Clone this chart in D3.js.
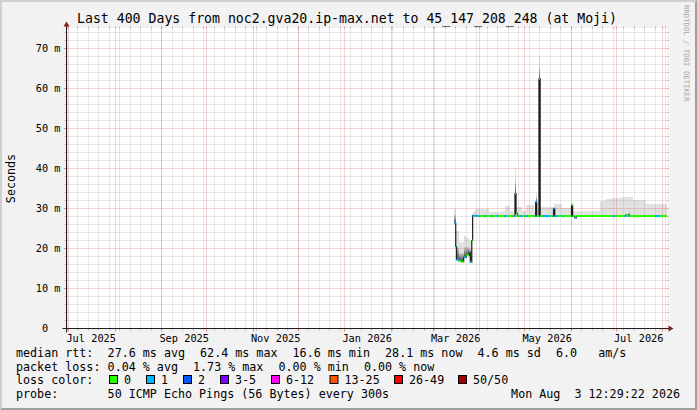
<!DOCTYPE html>
<html><head><meta charset="utf-8">
<script src="https://cdn.jsdelivr.net/npm/d3@7"></script>
<style>
html,body{margin:0;padding:0;background:#f2f2f2;}
svg{display:block;}
text{font-family:"DejaVu Sans Mono",monospace;white-space:pre;}
</style>
</head><body>
<svg id="c" width="697" height="410"></svg>
<script>
// ---------------- DATA ----------------
const titleText = "Last 400 Days from noc2.gva20.ip-max.net to 45_147_208_248 (at Moji)";
const endTimeStr = "2026-08-03T12:29:22";
const spanDays = 400;

// median rtt (ms) per period, period runs until next start; loss = lost pings of 50
const medianDates = [
 "2026-03-15T00:00","2026-03-16T00:00","2026-03-16T12:00","2026-03-18T05:00","2026-03-19T17:00",
 "2026-03-21T07:00","2026-03-23T00:00","2026-03-24T22:00","2026-03-25T17:00","2026-03-26T17:00",
 "2026-03-27T07:00","2026-03-29T22:00","2026-03-31T00:00","2026-04-01T00:00","2026-04-04T05:00",
 "2026-04-05T12:00","2026-04-08T12:00","2026-04-09T12:00","2026-04-12T00:00","2026-04-13T00:00",
 "2026-04-17T12:00","2026-04-19T00:00","2026-04-23T00:00","2026-04-24T05:00","2026-04-24T12:00",
 "2026-04-25T05:00","2026-04-26T00:00","2026-04-27T12:00","2026-04-29T12:00","2026-05-01T12:00",
 "2026-05-03T00:00","2026-05-07T12:00","2026-05-08T07:00","2026-05-09T00:00","2026-05-10T12:00",
 "2026-05-11T07:00","2026-05-13T00:00","2026-05-17T12:00","2026-05-19T12:00","2026-05-20T05:00",
 "2026-05-21T00:00","2026-05-23T00:00","2026-05-26T00:00","2026-05-26T19:00","2026-06-01T05:00",
 "2026-06-01T22:00","2026-06-03T05:00","2026-06-04T12:00","2026-06-28T12:00","2026-06-30T00:00",
 "2026-07-06T12:00","2026-07-07T12:00","2026-07-09T00:00","2026-07-09T17:00","2026-07-27T05:00",
 "2026-07-30T00:00"];
const medianMs = [
 26.3,20.5,17.2,16.9,16.7, 17.8,18.3,19.1,16.6,22.0,
 28.2,28.1,28.1,28.1,28.1, 28.1,28.1,28.1,28.1,28.1,
 28.1,28.1,28.1,28.1,33.7, 28.8,28.1,28.1,28.1,28.1,
 28.1,28.1,31.6,28.1,62.4, 28.1,28.1,28.1,28.1,30.0,
 28.1,28.1,28.1,28.1,30.8, 28.1,27.7,28.1,28.1,28.1,
 28.1,28.4,28.1,28.1,28.1, 28.1];
const medianLoss = [
 1,1,1,0,0, 1,0,1,1,0,
 1,0,1,0,1, 0,1,0,1,0,
 1,0,1,0,1, 0,0,1,0,1,
 0,1,1,0,1, 0,1,0,1,1,
 1,0,1,0,0, 0,1,0,1,0,
 1,0,1,0,1, 0];

// smoke (ping spread): upper edge and a denser inner band (ms)
const smokeDates = [
 "2026-03-15T00:00","2026-03-16T00:00","2026-03-16T12:00","2026-03-18T05:00","2026-03-21T07:00",
 "2026-03-23T00:00","2026-03-24T22:00","2026-03-26T17:00","2026-03-27T07:00","2026-03-29T00:00",
 "2026-04-07T00:00","2026-04-15T00:00","2026-04-18T00:00","2026-04-21T00:00","2026-04-24T12:00",
 "2026-04-25T05:00","2026-04-29T00:00","2026-05-02T00:00","2026-05-07T12:00","2026-05-08T07:00",
 "2026-05-09T00:00","2026-05-10T12:00","2026-05-11T07:00","2026-05-20T05:00","2026-05-26T00:00",
 "2026-06-01T05:00","2026-06-01T22:00","2026-06-20T00:00","2026-06-24T00:00","2026-06-28T00:00",
 "2026-07-05T00:00","2026-07-09T12:00","2026-07-10T05:00","2026-07-12T00:00","2026-07-21T00:00"];
const smokeTopMs = [
 30.0,24.0,24.5,21.6,23.2, 22.6,22.0,23.0,29.2,29.9,
 29.2,29.5,30.7,29.3,40.5, 30.5,29.5,31.0,29.5,34.0,
 29.6,68.0,30.5,31.2,30.2, 31.5,29.3,31.8,32.3,32.6,
 33.0,32.8,33.0,32.2,31.2];
const smokeInnerMs = [
 28.5,22.0,20.5,19.0,20.5, 20.5,20.0,null,null,null,
 null,null,null,null,37.0, null,null,null,null,33.0,
 null,65.5,null,null,null, null,null,null,null,null,
 null,29.3,null,null,null];

const yTicks = [0,10,20,30,40,50,60,70];
const lossLabels = ["0","1","2","3-5","6-12","13-25","26-49","50/50"];
const lossColors = ["#26ff00","#00b8ff","#0059ff","#7e00ff","#ff00ff","#ff5500","#ff0000","#a00000"];
const rttStatValues = [27.6, 62.4, 16.6, 28.1];
const rttStatNames = ["avg","max","min","now"];
const rttSd = 4.6;
const rttAmps = 6.0;
const lossStatValues = [0.04, 1.73, 0.00, 0.00];
const lossStatNames = ["avg","max","min","now"];
const probeText = "50 ICMP Echo Pings (56 Bytes) every 300s";
const stampText = "Mon Aug  3 12:29:22 2026";

// ---------------- LAYOUT ----------------
const W = 697, H = 410;
const X0 = 66.5, XS = 600, Y0 = 328.5, YS = 300;
const endTime = new Date(endTimeStr);
const startTime = new Date(+endTime - spanDays * 864e5);
const x = d3.scaleTime().domain([startTime, endTime]).range([X0, X0 + XS]);
const y = d3.scaleLinear().domain([0, 75]).range([Y0, Y0 - YS]);
const px = d => Math.floor(x(d)) + 0.5;

const C = {
  back: "#f2f2f2", canvas: "#ffffff", shadeA: "#cfcfcf", shadeB: "#9e9e9e",
  grid: "rgba(143,143,143,0.42)", mgrid: "rgba(222,79,79,0.5)",
  gridTick: "rgba(143,143,143,0.6)", mgridTick: "rgba(222,79,79,0.6)",
  font: "#000000", arrow: "#801f1f", axis: "#1f1f1f"
};
const FS = { title: 13.2, axis: 10.3, legend: 11.7, unit: 11.7, water: 7.3 };
const CW = FS.legend * 0.6021; // monospace advance

const svg = d3.select("#c");
const defs = svg.append("defs");
const grad = defs.append("linearGradient").attr("id", "inner").attr("x1", 0).attr("y1", 0).attr("x2", 0).attr("y2", 1);
grad.append("stop").attr("offset", "0%").attr("stop-color", "#d6d6d6");
grad.append("stop").attr("offset", "100%").attr("stop-color", "#4a4a4a");

svg.append("rect").attr("width", W).attr("height", H).attr("fill", C.back);
svg.append("path").attr("d", `M0,0L${W},0L${W-2},2L2,2L2,${H-2}L0,${H}Z`).attr("fill", C.shadeA);
svg.append("path").attr("d", `M${W},0L${W},${H}L0,${H}L2,${H-2}L${W-2},${H-2}L${W-2},2Z`).attr("fill", C.shadeB);
svg.append("rect").attr("x", 66).attr("y", 28).attr("width", 601).attr("height", 301).attr("fill", C.canvas);

// ---------------- SMOKE ----------------
const mD = medianDates.map(s => +new Date(s));
const sD = smokeDates.map(s => +new Date(s));
const bps = Array.from(new Set([...mD, ...sD])).sort((a, b) => a - b);
bps.push(+endTime);
const gSmoke = svg.append("g").attr("shape-rendering", "crispEdges");
for (let i = 0; i < bps.length - 1; i++) {
  const a = bps[i], b = bps[i + 1];
  const mi = d3.bisectRight(mD, a) - 1, si = d3.bisectRight(sD, a) - 1;
  if (mi < 0 || si < 0) continue;
  const med = medianMs[mi], top = smokeTopMs[si], inner = smokeInnerMs[si];
  const xa = x(new Date(a)), xb = x(new Date(b));
  gSmoke.append("rect").attr("x", xa).attr("width", xb - xa)
    .attr("y", y(top)).attr("height", y(med) - y(top)).attr("fill", "#e1e1e1");
  if (inner !== null) {
    gSmoke.append("rect").attr("x", xa).attr("width", xb - xa)
      .attr("y", y(inner)).attr("height", y(med) - y(inner)).attr("fill", "url(#inner)");
  }
}

// ---------------- GRID ----------------
const gGrid = svg.append("g");
const minorY = d3.range(0, 75, 2).filter(v => v % 10 !== 0);
minorY.forEach(v => {
  const yy = y(v);
  gGrid.append("line").attr("x1", X0).attr("x2", X0 + XS).attr("y1", yy).attr("y2", yy)
    .attr("stroke", C.grid).attr("stroke-dasharray", "1,1");
  gGrid.append("line").attr("x1", X0 - 2).attr("x2", X0).attr("y1", yy).attr("y2", yy).attr("stroke", C.gridTick);
  gGrid.append("line").attr("x1", X0 + XS).attr("x2", X0 + XS + 2).attr("y1", yy).attr("y2", yy).attr("stroke", C.gridTick);
});
const weeks = d3.timeMonday.range(startTime, endTime);
weeks.forEach(d => {
  const xx = px(d);
  gGrid.append("line").attr("x1", xx).attr("x2", xx).attr("y1", Y0 - YS).attr("y2", Y0)
    .attr("stroke", C.grid).attr("stroke-dasharray", "1,1");
  gGrid.append("line").attr("x1", xx).attr("x2", xx).attr("y1", Y0 - YS - 2).attr("y2", Y0 - YS).attr("stroke", C.gridTick);
  gGrid.append("line").attr("x1", xx).attr("x2", xx).attr("y1", Y0).attr("y2", Y0 + 2).attr("stroke", C.gridTick);
});
yTicks.forEach(v => {
  const yy = y(v);
  gGrid.append("line").attr("x1", X0).attr("x2", X0 + XS).attr("y1", yy).attr("y2", yy)
    .attr("stroke", C.mgrid).attr("stroke-dasharray", "1,1");
  gGrid.append("line").attr("x1", X0 - 3).attr("x2", X0).attr("y1", yy).attr("y2", yy).attr("stroke", C.mgridTick);
  gGrid.append("line").attr("x1", X0 + XS).attr("x2", X0 + XS + 2).attr("y1", yy).attr("y2", yy).attr("stroke", C.mgridTick);
});
const months = d3.timeMonth.range(startTime, endTime);
months.forEach(d => {
  const xx = px(d);
  gGrid.append("line").attr("x1", xx).attr("x2", xx).attr("y1", Y0 - YS).attr("y2", Y0)
    .attr("stroke", C.mgrid).attr("stroke-dasharray", "1,1");
  gGrid.append("line").attr("x1", xx).attr("x2", xx).attr("y1", Y0 - YS - 2).attr("y2", Y0 - YS).attr("stroke", C.mgridTick);
  gGrid.append("line").attr("x1", xx).attr("x2", xx).attr("y1", Y0).attr("y2", Y0 + 3).attr("stroke", C.mgridTick);
});

// ---------------- MEDIAN ----------------
const medPts = medianDates.map((s, i) => [new Date(s), medianMs[i]]);
medPts.push([endTime, medianMs[medianMs.length - 1]]);
svg.append("path").datum(medPts)
  .attr("d", d3.line().x(d => x(d[0])).y(d => y(d[1])).curve(d3.curveStepAfter))
  .attr("fill", "none").attr("stroke", "#1c1c1c").attr("stroke-width", 1.2);
const gMed = svg.append("g");
medianDates.forEach((s, i) => {
  const a = new Date(s), b = i + 1 < medianDates.length ? new Date(medianDates[i + 1]) : endTime;
  gMed.append("line").attr("x1", x(a)).attr("x2", x(b)).attr("y1", y(medianMs[i])).attr("y2", y(medianMs[i]))
    .attr("stroke", lossColors[medianLoss[i]]).attr("stroke-width", 2);
});

// ---------------- AXES ----------------
svg.append("line").attr("x1", X0 - 4).attr("x2", X0 + XS + 4).attr("y1", Y0).attr("y2", Y0).attr("stroke", C.axis);
svg.append("line").attr("x1", X0).attr("x2", X0).attr("y1", Y0 + 4).attr("y2", Y0 - YS - 4).attr("stroke", C.axis);
svg.append("path").attr("d", `M${X0+XS+2},${Y0-3}L${X0+XS+2},${Y0+3}L${X0+XS+7},${Y0}Z`).attr("fill", C.arrow);
svg.append("path").attr("d", `M${X0-3},${Y0-YS-2}L${X0+3},${Y0-YS-2}L${X0},${Y0-YS-7}Z`).attr("fill", C.arrow);

// y labels
yTicks.forEach(v => {
  svg.append("text").attr("x", 60.5).attr("y", y(v) + 3.6).attr("text-anchor", "end")
    .attr("font-size", FS.axis).attr("fill", C.font)
    .text(v === 0 ? "0\u00a0\u00a0" : v + " m");
});
// x labels: every 2 months, placed at month start + 15 days
const labelMonths = months.filter(d => d.getMonth() % 2 === 0);
const fmt = d3.timeFormat("%b %Y");
labelMonths.forEach(d => {
  const t = d3.timeDay.offset(d, 15);
  svg.append("text").attr("x", x(t)).attr("y", 341.5).attr("text-anchor", "middle")
    .attr("font-size", FS.axis).attr("fill", C.font).text(fmt(d));
});

// unit label
svg.append("text").attr("transform", `translate(15,${Y0 - YS / 2}) rotate(-90)`)
  .attr("text-anchor", "middle").attr("font-size", FS.unit).attr("fill", C.font).text("Seconds");

// title
svg.append("text").attr("x", 347).attr("y", 23).attr("text-anchor", "middle")
  .attr("font-size", FS.title).attr("fill", C.font).text(titleText);

// watermark
svg.append("text").attr("transform", "translate(684,5) rotate(90)")
  .attr("font-size", FS.water).attr("fill", "#a8a8a8").text("RRDTOOL / TOBI OETIKER");

// ---------------- LEGEND ----------------
const gL = svg.append("g").attr("font-size", FS.legend).attr("fill", C.font);
const rowY = [357, 370.5, 384, 398];
const GAP = 15;
const put = (xx, yy, t) => { gL.append("text").attr("x", xx).attr("y", yy).text(t); return xx + t.length * CW + GAP; };
const LX = 107.6;
put(16, rowY[0], "median rtt:");
let cx = LX;
rttStatValues.forEach((v, i) => { cx = put(cx, rowY[0], `${v.toFixed(1)} ms ${rttStatNames[i]}`); });
cx = put(cx, rowY[0], `${rttSd.toFixed(1)} ms sd`);
put(cx, rowY[0], `${rttAmps.toFixed(1)}   am/s`);

put(16, rowY[1], "packet loss:");
cx = LX;
lossStatValues.forEach((v, i) => { cx = put(cx, rowY[1], `${v.toFixed(2)} % ${lossStatNames[i]}`); });

put(16, rowY[2], "loss color:");
const boxX = [109, 146, 183, 220, 271, 329.5, 394, 458];
lossLabels.forEach((lab, i) => {
  gL.append("rect").attr("x", boxX[i] + 0.5).attr("y", rowY[2] - 8.5).attr("width", 8).attr("height", 8)
    .attr("fill", lossColors[i]).attr("stroke", "#000").attr("stroke-width", 1);
  put(boxX[i] + 15, rowY[2], lab);
});

put(16, rowY[3], "probe:");
put(LX, rowY[3], probeText);
gL.append("text").attr("x", 680).attr("y", rowY[3]).attr("text-anchor", "end").text(stampText);
</script>
</body></html>
